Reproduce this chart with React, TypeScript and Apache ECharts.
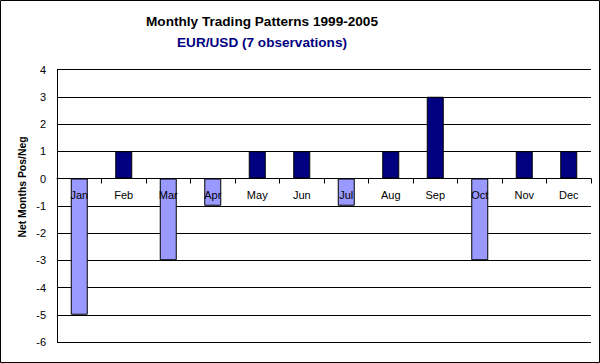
import React, { useEffect, useRef } from "react";
import * as echarts from "echarts";

const months = ["Jan", "Feb", "Mar", "Apr", "May", "Jun", "Jul", "Aug", "Sep", "Oct", "Nov", "Dec"];
const netMonths = [-5, 1, -3, -1, 1, 1, -1, 1, 3, -3, 1, 1];
const yTicks = { min: -6, max: 4, interval: 1 };
const titleText = "Monthly Trading Patterns 1999-2005";
const subtitleText = "EUR/USD (7 observations)";
const yAxisName = "Net Months Pos/Neg";

const POS = "#000080";
const NEG = "#9999FF";
const FONT = "Liberation Sans, Arial, sans-serif";

const GRID_TOP = 69.5;
const GRID_BOTTOM = 21;
const CHART_H = 363;

export default function App() {
  const ref = useRef<HTMLDivElement>(null);
  useEffect(() => {
    if (!ref.current) return;
    const chart = echarts.init(ref.current, undefined, { renderer: "svg" });
    const plotH = CHART_H - GRID_TOP - GRID_BOTTOM;
    const zeroOffset = -plotH * (0 - yTicks.min) / (yTicks.max - yTicks.min);
    chart.setOption({
      animation: false,
      backgroundColor: "#fff",
      grid: { left: 57, right: 9, top: GRID_TOP, bottom: GRID_BOTTOM, containLabel: false },
      xAxis: {
        type: "category",
        data: months,
        z: 5,
        offset: zeroOffset,
        axisLine: { onZero: false, lineStyle: { color: "#000", width: 1 } },
        axisTick: { show: true, length: 5, lineStyle: { color: "#000" } },
        axisLabel: { color: "#000", fontSize: 11, fontFamily: FONT, margin: 11 },
        splitLine: { show: false },
      },
      yAxis: {
        type: "value",
        min: yTicks.min,
        max: yTicks.max,
        interval: yTicks.interval,
        axisLine: { show: true, lineStyle: { color: "#000", width: 1 } },
        axisTick: { show: false },
        axisLabel: { color: "#000", fontSize: 11, fontFamily: FONT, margin: 11 },
        splitLine: { show: true, lineStyle: { color: "#000", width: 1 } },
      },
      series: [
        {
          type: "bar",
          barWidth: 17,
          data: netMonths.map((v) => ({
            value: v,
            itemStyle: { color: v < 0 ? NEG : POS, borderColor: "#000", borderWidth: 1 },
          })),
        },
      ],
      graphic: [
        {
          type: "rect",
          shape: { x: 0.5, y: 0.5, width: 599, height: 362 },
          style: { fill: "none", stroke: "#000", lineWidth: 1 },
          silent: true,
        },
        {
          type: "text",
          x: 262,
          y: 21,
          style: {
            text: titleText,
            fill: "#000",
            font: "bold 13.6px " + FONT,
            textAlign: "center",
            textVerticalAlign: "middle",
          },
        },
        {
          type: "text",
          x: 262,
          y: 42,
          style: {
            text: subtitleText,
            fill: "#000080",
            font: "bold 13.6px " + FONT,
            textAlign: "center",
            textVerticalAlign: "middle",
          },
        },
        {
          type: "text",
          x: 22,
          y: 187,
          rotation: Math.PI / 2,
          style: {
            text: yAxisName,
            fill: "#000",
            font: "bold 10.4px " + FONT,
            textAlign: "center",
            textVerticalAlign: "middle",
          },
        },
      ],
    });
    return () => chart.dispose();
  }, []);
  return (
    <div
      ref={ref}
      style={{ position: "fixed", left: 0, top: 0, width: 600, height: 363 }}
    />
  );
}
